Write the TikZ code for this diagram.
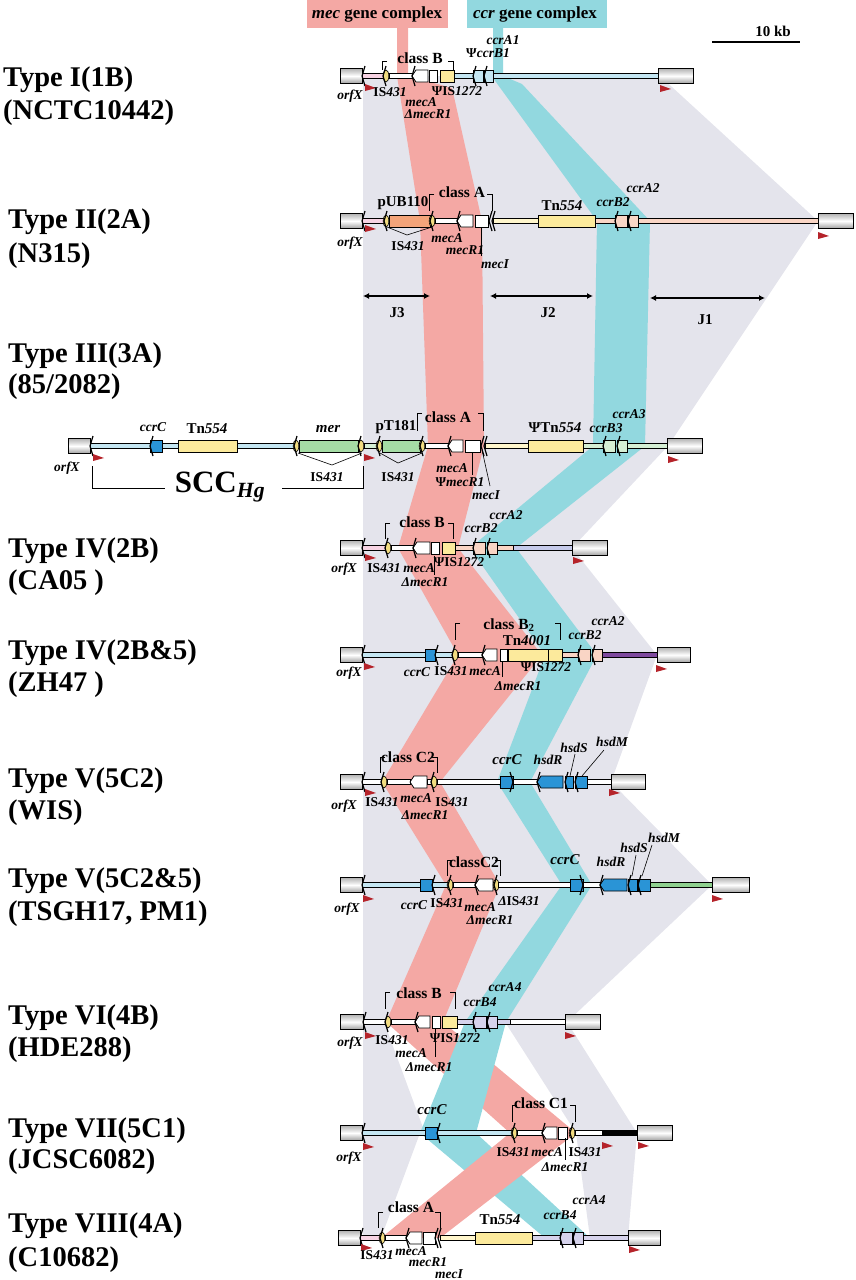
\documentclass[tikz,border=0pt]{standalone}
\usepackage{fontspec}
\setmainfont{Liberation Serif}
\usetikzlibrary{arrows.meta}

\definecolor{greyband}{HTML}{E4E4EC}
\definecolor{pinkband}{HTML}{F4A8A4}
\definecolor{cyanband}{HTML}{92D8DF}
\definecolor{lblue}{HTML}{C4E6F2}
\definecolor{ccrblue}{HTML}{2A94D6}
\definecolor{yel}{HTML}{FCEA9C}
\definecolor{lyel}{HTML}{FFF6CC}
\definecolor{isyel}{HTML}{F2DC80}
\definecolor{lpink}{HTML}{F7D3E3}
\definecolor{lsalm}{HTML}{F9D5C5}
\definecolor{lav}{HTML}{D6D3EC}
\definecolor{lperi}{HTML}{C5CAEA}
\definecolor{lgreen}{HTML}{D5EFD5}
\definecolor{mgreen}{HTML}{A5DCA5}
\definecolor{sgreen}{HTML}{8ED08E}
\definecolor{purp}{HTML}{7E4A9E}
\definecolor{orng}{HTML}{F3A47A}
\definecolor{flagred}{HTML}{B5232A}

% backbone, gene box, gene arrow, end box, IS431, marks, flags, brackets
\newcommand{\bbn}[4]{\filldraw[fill=#4,line width=.7pt] (#1,#3-2.5) rectangle (#2,#3+2.5);}
\newcommand{\gbx}[4]{\filldraw[fill=#4,line width=.8pt] (#1,#3-6) rectangle (#2,#3+6);}
\newcommand{\gar}[4]{\filldraw[fill=#4,line width=.8pt] (#1,#3) -- (#1+4,#3-6) -- (#2,#3-6) -- (#2,#3+6) -- (#1+4,#3+6) -- cycle;}
\newcommand{\ebx}[3]{\shade[top color=gray!60,bottom color=gray!75,middle color=white] (#1,#3-7.5) rectangle (#2,#3+7.5);
  \draw[line width=.8pt] (#1,#3-7.5) rectangle (#2,#3+7.5);}
\newcommand{\isl}[2]{\filldraw[fill=isyel,line width=.6pt] (#1,#2) ellipse (2.8 and 6);}
\newcommand{\mkl}[2]{\draw[line width=1.2pt] (#1+3,#2-10) -- (#1,#2) -- (#1+3,#2+10);}
\newcommand{\mkr}[2]{\draw[line width=1.2pt] (#1-3,#2-10) -- (#1,#2) -- (#1-3,#2+10);}
\newcommand{\rfl}[2]{\fill[flagred] (#1,#2-4) -- (#1+11,#2) -- (#1,#2+3) -- cycle;}
\newcommand{\brk}[4]{\draw[line width=.9pt] (#1+5,#3) -- (#1,#3) -- (#1,#4);
  \draw[line width=.9pt] (#2-5,#3) -- (#2,#3) -- (#2,#4);}
\newcommand{\ISn}[1]{\textup{IS}#1}
\newcommand{\Psn}{\textup{Ψ}}

\tikzset{
  glab/.style={font=\fontsize{13.5}{13.5}\selectfont\bfseries\itshape, inner sep=0pt},
  clab/.style={font=\fontsize{15.5}{15.5}\selectfont\bfseries, inner sep=0pt},
  tnlab/.style={font=\fontsize{15}{15}\selectfont\bfseries, inner sep=0pt},
  tlab/.style={font=\fontsize{28.5}{28.5}\selectfont\bfseries, inner sep=0pt, anchor=base west},
  jarr/.style={{Latex[length=6pt,width=6pt]}-{Latex[length=6pt,width=6pt]}, line width=1.2pt},
  ptr/.style={line width=.6pt}
}

\begin{document}
\begin{tikzpicture}[x=1pt,y=-1pt]
\useasboundingbox (0,0) rectangle (855,1280);

% homologous regions
\fill[greyband] (363,76) -- (660,76) -- (818,221) -- (668,446) -- (572,548) -- (657,655) -- (611,782) -- (712,885) -- (567,1022) -- (363,1022) -- cycle;
\fill[greyband] (363,1022) -- (384,1022) -- (425,1133) -- (363,1133) -- cycle;
\fill[greyband] (505,1022) -- (567,1022) -- (637,1133) -- (576,1133) -- cycle;
\fill[greyband] (363,1133) -- (420,1133) -- (381,1238) -- (363,1238) -- cycle;
\fill[greyband] (576,1133) -- (637,1133) -- (628,1238) -- (590,1238) -- cycle;

% mec and ccr gene complex bands
\fill[pinkband] (307,0) rectangle (448,28);
\fill[pinkband] (397,28) -- (397,76) -- (420,221) -- (428,446) -- (398,548) -- (458,655) -- (382,782) -- (446,885) -- (386,1022) -- (510,1133) -- (576,1133) -- (443,1022) -- (500,885) -- (440,782) -- (542,655) -- (458,548) -- (484,446) -- (482,221) -- (452,88) -- (408,76) -- (408,28) -- cycle;
\fill[cyanband] (467,0) rectangle (607,28);
\fill[cyanband] (493,28) -- (493,78) -- (597,221) -- (593,446) -- (470,548) -- (545,655) -- (497,782) -- (562,885) -- (465,1022) -- (420,1133) -- (545,1238) -- (590,1238) -- (476,1133) -- (506,1022) -- (592,885) -- (530,782) -- (597,655) -- (516,548) -- (645,446) -- (650,221) -- (522,84) -- (503,76) -- (503,28) -- cycle;
\fill[pinkband] (510,1133) -- (576,1133) -- (440,1238) -- (381,1238) -- cycle;

\node[font=\fontsize{17}{17}\selectfont\bfseries] (meclab) at (377,14) {\textit{mec} gene complex};
\node[font=\fontsize{17}{17}\selectfont\bfseries] (ccrlab) at (535,14) {\textit{ccr} gene complex};

% scale
\node[tnlab] (kb) at (773,31) {10 kb};
\draw[line width=1.5pt] (712,42) -- (800,42);

% junkyard regions
\coordinate (j3a) at (363,296); \coordinate (j3b) at (430,296);
\coordinate (j2a) at (490,296); \coordinate (j2b) at (593,296);
\coordinate (j1a) at (650,298); \coordinate (j1b) at (765,298);
\draw[jarr] (j3a) -- (j3b);
\draw[jarr] (j2a) -- (j2b);
\draw[jarr] (j1a) -- (j1b);
\node[tnlab] (j3) at (397,313) {J3};
\node[tnlab] (j2) at (548,313) {J2};
\node[tnlab] (j1) at (705,320) {J1};

% type labels
\node[tlab] (t1) at (3,86) {Type I(1B)};
\node[tlab] (s1) at (3,119) {(NCTC10442)};
\node[tlab] (t2) at (8,228) {Type II(2A)};
\node[tlab] (s2) at (8,262) {(N315)};
\node[tlab] (t3) at (8,362) {Type III(3A)};
\node[tlab] (s3) at (8,393) {(85/2082)};
\node[tlab] (t4) at (8,557) {Type IV(2B)};
\node[tlab] (s4) at (8,589) {(CA05 )};
\node[tlab] (t5) at (8,659) {Type IV(2B\&5)};
\node[tlab] (s5) at (8,691) {(ZH47 )};
\node[tlab] (t6) at (8,787) {Type V(5C2)};
\node[tlab] (s6) at (8,819) {(WIS)};
\node[tlab] (t7) at (8,887) {Type V(5C2\&5)};
\node[tlab] (s7) at (8,920) {(TSGH17, PM1)};
\node[tlab] (t8) at (8,1024) {Type VI(4B)};
\node[tlab] (s8) at (8,1056) {(HDE288)};
\node[tlab] (t9) at (8,1137) {Type VII(5C1)};
\node[tlab] (s9) at (8,1168) {(JCSC6082)};
\node[tlab] (t10) at (8,1232) {Type VIII(4A)};
\node[tlab] (s10) at (8,1266) {(C10682)};

% Type I
\bbn{362}{383}{76}{lpink} \isl{386}{76} \bbn{389}{412}{76}{white}
\gar{412}{428}{76}{white} \gbx{429}{437}{76}{white} \gbx{440}{454}{76}{yel}
\bbn{454}{473}{76}{lblue} \gbx{473}{483}{76}{lblue} \gbx{484}{493}{76}{lblue}
\bbn{493}{658}{76}{lblue}
\ebx{340}{362}{76} \ebx{658}{693}{76}
\mkl{362}{76} \mkl{383}{76} \mkl{412}{76} \mkl{473}{76} \mkl{484}{76}
\rfl{365}{88} \rfl{660}{89}
\brk{382}{453}{61}{70}
\node[clab] (r1cls) at (420,58) {class B};
\node[glab] (r1orf) at (350,96) {orfX};
\node[glab] (r1is) at (390,92) {\ISn{431}};
\node[glab] (r1meca) at (421,102) {mecA};
\node[glab] (r1mecr) at (428,114) {ΔmecR1};
\node[glab] (r1is2) at (457,91) {\Psn\ISn{1272}};
\node[glab] (r1ccrb) at (488,53) {\Psn ccrB1};
\node[glab] (r1ccra) at (503,40) {ccrA1};

% Type II
\bbn{362}{384}{221}{lpink} \isl{386}{221}
\gbx{389}{430}{221}{orng} \isl{432}{221} \bbn{435}{457}{221}{white}
\gar{457}{473}{221}{white} \gbx{475}{488}{221}{white}
\bbn{493}{538}{221}{lyel} \gbx{538}{595}{221}{yel}
\bbn{595}{615}{221}{lsalm} \gbx{615}{627}{221}{lsalm} \gbx{628}{638}{221}{lsalm}
\bbn{638}{818}{221}{lsalm}
\ebx{340}{362}{221} \ebx{818}{853}{221}
\mkl{362}{221} \mkl{384}{221} \mkl{430}{221} \mkl{457}{221} \mkl{489}{221} \mkl{492}{221}
\mkl{615}{221} \mkl{628}{221}
\rfl{365}{229} \rfl{818}{236}
\brk{429}{492}{194}{211}
\draw[ptr] (387,227) -- (407,235) -- (432,227);
\draw[ptr] (481,227) -- (481,256);
\node[tnlab] (r2pub) at (403,203) {pUB110};
\node[clab] (r2cls) at (462,192) {class A};
\node[glab] (r2orf) at (350,243) {orfX};
\node[glab] (r2is) at (408,246) {\ISn{431}};
\node[glab] (r2meca) at (447,238) {mecA};
\node[glab] (r2mecr) at (465,250) {mecR1};
\node[glab] (r2meci) at (495,264) {mecI};
\node[tnlab] (r2tn) at (562,206) {Tn\textit{554}};
\node[glab] (r2ccrb) at (613,202) {ccrB2};
\node[glab] (r2ccra) at (643,188) {ccrA2};

% Type III
\bbn{90}{150}{446}{lblue} \gbx{150}{162}{446}{ccrblue} \bbn{162}{178}{446}{lblue}
\gbx{178}{237}{446}{yel} \bbn{237}{294}{446}{lblue}
\isl{296}{446} \gbx{299}{358}{446}{mgreen} \isl{361}{446}
\bbn{364}{377}{446}{lgreen} \isl{379}{446} \gbx{382}{420}{446}{mgreen} \isl{422}{446}
\bbn{425}{448}{446}{white} \gar{448}{463}{446}{white} \gbx{465}{480}{446}{white}
\bbn{485}{528}{446}{lyel} \gbx{528}{583}{446}{yel}
\bbn{583}{603}{446}{lgreen} \gbx{603}{615}{446}{lgreen} \gbx{617}{627}{446}{lgreen}
\bbn{627}{667}{446}{lgreen}
\ebx{68}{90}{446} \ebx{667}{702}{446}
\mkl{90}{446} \mkl{150}{446} \mkl{294}{446} \mkl{358}{446} \mkl{377}{446} \mkl{420}{446}
\mkl{448}{446} \mkl{481}{446} \mkl{484}{446} \mkl{603}{446} \mkl{617}{446}
\rfl{93}{458} \rfl{364}{458} \rfl{668}{460}
\brk{417}{483}{413}{431}
\draw[ptr] (298,453) -- (332,465) -- (362,453);
\draw[ptr] (380,453) -- (398,463) -- (422,453);
\draw[ptr] (472,452) -- (472,475);
\draw[ptr] (482,450) -- (490,486);
\draw[line width=1pt] (92,466) -- (92,488) -- (165,488);
\draw[line width=1pt] (282,488) -- (363,488) -- (363,466);
\node[font=\fontsize{31}{31}\selectfont\bfseries, inner sep=0pt] (scchg) at (220,487) {SCC\textsubscript{\textit{Hg}}};
\node[glab] (r3orf) at (67,468) {orfX};
\node[glab] (r3ccrc) at (153,427) {ccrC};
\node[tnlab] (r3tn) at (207,429) {Tn\textit{554}};
\node[glab, font=\fontsize{15}{15}\selectfont\bfseries\itshape] (r3mer) at (328,429) {mer};
\node[tnlab] (r3pt) at (396,427) {pT181};
\node[clab] (r3cls) at (448,417) {class A};
\node[glab] (r3is) at (327,477) {\ISn{431}};
\node[glab] (r3is2) at (398,477) {\ISn{431}};
\node[glab] (r3meca) at (452,468) {mecA};
\node[glab] (r3mecr) at (460,482) {\Psn mecR1};
\node[glab] (r3meci) at (486,495) {mecI};
\node[tnlab] (r3tn2) at (555,428) {\Psn Tn\textit{554}};
\node[glab] (r3ccrb) at (606,428) {ccrB3};
\node[glab] (r3ccra) at (629,414) {ccrA3};

% Type IV(2B)
\bbn{362}{385}{548}{lpink} \isl{388}{548} \bbn{391}{413}{548}{white}
\gar{413}{430}{548}{white} \gbx{431}{439}{548}{white} \gbx{442}{455}{548}{yel}
\bbn{455}{473}{548}{lsalm} \gbx{473}{485}{548}{lsalm} \gbx{487}{497}{548}{lsalm}
\bbn{497}{513}{548}{lsalm} \bbn{513}{572}{548}{lperi}
\ebx{340}{362}{548} \ebx{572}{607}{548}
\mkl{362}{548} \mkl{385}{548} \mkl{413}{548} \mkl{473}{548} \mkl{487}{548}
\rfl{365}{558} \rfl{573}{561}
\brk{385}{453}{523}{539}
\draw[ptr] (434,556) -- (434,575);
\node[clab] (r4cls) at (422,522) {class B};
\node[glab] (r4orf) at (344,569) {orfX};
\node[glab] (r4is) at (384,568) {\ISn{431}};
\node[glab] (r4meca) at (419,568) {mecA};
\node[glab] (r4mecr) at (425,582) {ΔmecR1};
\node[glab] (r4is2) at (459,562) {\Psn\ISn{1272}};
\node[glab] (r4ccrb) at (481,528) {ccrB2};
\node[glab] (r4ccra) at (506,515) {ccrA2};

% Type IV(2B&5)
\bbn{362}{425}{655}{lblue} \gbx{425}{435}{655}{ccrblue} \bbn{435}{452}{655}{lblue}
\isl{455}{655} \bbn{458}{482}{655}{white}
\gar{482}{497}{655}{white} \gbx{500}{507}{655}{white}
\gbx{508}{548}{655}{yel} \gbx{548}{562}{655}{yel}
\bbn{562}{578}{655}{lsalm} \gbx{578}{590}{655}{lsalm} \gbx{592}{602}{655}{lsalm}
\bbn{602}{657}{655}{purp}
\ebx{340}{362}{655} \ebx{657}{690}{655}
\mkl{362}{655} \mkl{435}{655} \mkl{452}{655} \mkl{482}{655} \mkl{578}{655} \mkl{592}{655}
\rfl{364}{667} \rfl{656}{669}
\brk{455}{560}{623}{640}
\draw[ptr] (502,661) -- (502,677);
\node[clab] (r5cls) at (509,625) {class B\textsubscript{2}};
\node[tnlab] (r5tn) at (527,641) {Tn\textit{4001}};
\node[glab] (r5orf) at (349,673) {orfX};
\node[glab] (r5ccrc) at (417,672) {ccrC};
\node[glab] (r5is) at (451,671) {\ISn{431}};
\node[glab] (r5meca) at (485,671) {mecA};
\node[glab] (r5mecr) at (518,686) {ΔmecR1};
\node[glab] (r5is2) at (546,667) {\Psn\ISn{1272}};
\node[glab] (r5ccrb) at (585,635) {ccrB2};
\node[glab] (r5ccra) at (608,621) {ccrA2};

% Type V(5C2)
\bbn{362}{381}{782}{white} \isl{384}{782} \bbn{387}{410}{782}{white}
\gar{410}{427}{782}{white} \bbn{427}{432}{782}{white} \isl{434}{782}
\bbn{437}{500}{782}{white} \gbx{500}{513}{782}{ccrblue} \bbn{513}{537}{782}{white}
\gar{537}{563}{782}{ccrblue} \gbx{565}{573}{782}{ccrblue} \gbx{575}{587}{782}{ccrblue}
\bbn{587}{611}{782}{white}
\ebx{340}{362}{782} \ebx{611}{645}{782}
\mkl{362}{782} \mkl{381}{782} \mkl{431}{782} \mkr{513}{782} \mkl{537}{782} \mkl{565}{782} \mkl{575}{782}
\rfl{365}{793} \rfl{609}{793}
\brk{380}{437}{757}{773}
\draw[ptr] (575,754) -- (570,776);
\draw[ptr] (604,750) -- (582,776);
\node[clab] (r6cls) at (408,757) {class C2};
\node[glab] (r6orf) at (344,806) {orfX};
\node[glab] (r6is) at (382,802) {\ISn{431}};
\node[glab] (r6meca) at (416,798) {mecA};
\node[glab] (r6mecr) at (425,815) {ΔmecR1};
\node[glab] (r6is2) at (452,802) {\ISn{431}};
\node[glab, font=\fontsize{15}{15}\selectfont\bfseries\itshape] (r6ccrc) at (507,760) {ccrC};
\node[glab] (r6hsdr) at (548,760) {hsdR};
\node[glab] (r6hsds) at (574,748) {hsdS};
\node[glab] (r6hsdm) at (612,742) {hsdM};

% Type V(5C2&5)
\bbn{362}{420}{885}{lblue} \gbx{420}{432}{885}{ccrblue} \bbn{432}{448}{885}{lblue}
\isl{450}{885} \bbn{453}{475}{885}{white} \gar{475}{493}{885}{white} \isl{496}{885}
\bbn{498}{570}{885}{white} \gbx{570}{583}{885}{ccrblue} \bbn{583}{600}{885}{white}
\gar{600}{627}{885}{ccrblue} \gbx{628}{637}{885}{ccrblue} \gbx{638}{650}{885}{ccrblue}
\bbn{650}{712}{885}{sgreen}
\ebx{340}{362}{885} \ebx{712}{749}{885}
\mkl{362}{885} \mkl{432}{885} \mkl{448}{885} \mkl{475}{885} \mkl{494}{885} \mkr{583}{885}
\mkl{600}{885} \mkl{628}{885} \mkl{638}{885}
\rfl{363}{899} \rfl{712}{899}
\brk{447}{500}{860}{876}
\draw[ptr] (636,855) -- (632,876);
\draw[ptr] (652,845) -- (642,876);
\node[clab] (r7cls) at (474,862) {classC2};
\node[glab] (r7orf) at (347,909) {orfX};
\node[glab] (r7ccrc) at (414,905) {ccrC};
\node[glab] (r7is) at (447,903) {\ISn{431}};
\node[glab] (r7meca) at (480,907) {mecA};
\node[glab] (r7mecr) at (490,920) {ΔmecR1};
\node[glab] (r7is2) at (519,901) {Δ\ISn{431}};
\node[glab, font=\fontsize{15}{15}\selectfont\bfseries\itshape] (r7ccrc2) at (565,860) {ccrC};
\node[glab] (r7hsdr) at (611,862) {hsdR};
\node[glab] (r7hsds) at (634,848) {hsdS};
\node[glab] (r7hsdm) at (664,838) {hsdM};

% Type VI(4B)
\bbn{363}{385}{1022}{white} \isl{388}{1022} \bbn{391}{415}{1022}{white}
\gar{415}{430}{1022}{white} \gbx{432}{440}{1022}{white} \gbx{442}{457}{1022}{yel}
\bbn{457}{473}{1022}{lav} \gbx{473}{486}{1022}{lav} \gbx{487}{497}{1022}{lav}
\bbn{497}{510}{1022}{lav} \bbn{510}{565}{1022}{white}
\ebx{340}{363}{1022} \ebx{565}{600}{1022}
\mkl{363}{1022} \mkl{385}{1022} \mkl{415}{1022} \mkl{473}{1022} \mkl{487}{1022}
\rfl{365}{1036} \rfl{565}{1036}
\brk{385}{455}{992}{1009}
\draw[ptr] (435,1029) -- (435,1057);
\node[clab] (r8cls) at (419,993) {class B};
\node[glab] (r8orf) at (350,1043) {orfX};
\node[glab] (r8is) at (392,1040) {\ISn{431}};
\node[glab] (r8meca) at (411,1053) {mecA};
\node[glab] (r8mecr) at (429,1067) {ΔmecR1};
\node[glab] (r8is2) at (455,1038) {\Psn\ISn{1272}};
\node[glab] (r8ccrb) at (480,1002) {ccrB4};
\node[glab] (r8ccra) at (505,987) {ccrA4};

% Type VII(5C1)
\bbn{362}{425}{1133}{lblue} \gbx{425}{437}{1133}{ccrblue} \bbn{437}{512}{1133}{lblue}
\isl{514}{1133} \bbn{517}{542}{1133}{white}
\gar{542}{557}{1133}{white} \gbx{558}{567}{1133}{white} \isl{572}{1133}
\bbn{575}{602}{1133}{white} \bbn{602}{637}{1133}{black}
\ebx{340}{362}{1133} \ebx{637}{672}{1133}
\mkl{362}{1133} \mkl{437}{1133} \mkl{512}{1133} \mkl{542}{1133} \mkl{570}{1133}
\rfl{363}{1147} \rfl{602}{1146} \rfl{638}{1146}
\brk{512}{575}{1105}{1122}
\draw[ptr] (565,1138) -- (565,1160);
\node[clab] (r9cls) at (541,1103) {class C1};
\node[glab, font=\fontsize{15}{15}\selectfont\bfseries\itshape] (r9ccrc) at (432,1110) {ccrC};
\node[glab] (r9orf) at (349,1158) {orfX};
\node[glab] (r9is) at (513,1152) {\ISn{431}};
\node[glab] (r9meca) at (547,1152) {mecA};
\node[glab] (r9mecr) at (565,1167) {ΔmecR1};
\node[glab] (r9is2) at (585,1152) {\ISn{431}};

% Type VIII(4A)
\bbn{360}{380}{1238}{lpink} \isl{382}{1238} \bbn{385}{406}{1238}{white}
\gar{406}{422}{1238}{white} \gbx{423}{435}{1238}{white}
\bbn{440}{475}{1238}{lyel} \gbx{475}{532}{1238}{yel}
\bbn{532}{560}{1238}{lav} \gbx{560}{572}{1238}{lav} \gbx{573}{583}{1238}{lav}
\bbn{583}{628}{1238}{lav}
\ebx{338}{360}{1238} \ebx{628}{660}{1238}
\mkl{360}{1238} \mkl{380}{1238} \mkl{406}{1238} \mkl{435}{1238} \mkl{438}{1238}
\mkl{560}{1238} \mkl{573}{1238}
\rfl{361}{1248} \rfl{629}{1250}
\brk{378}{440}{1212}{1228}
\node[clab] (r10cls) at (411,1207) {class A};
\node[glab] (r10is) at (377,1255) {\ISn{431}};
\node[glab] (r10meca) at (411,1251) {mecA};
\node[glab] (r10mecr) at (428,1262) {mecR1};
\node[glab] (r10meci) at (449,1274) {mecI};
\node[tnlab] (r10tn) at (500,1220) {Tn\textit{554}};
\node[glab] (r10ccrb) at (560,1215) {ccrB4};
\node[glab] (r10ccra) at (589,1200) {ccrA4};
\end{tikzpicture}
\end{document}
